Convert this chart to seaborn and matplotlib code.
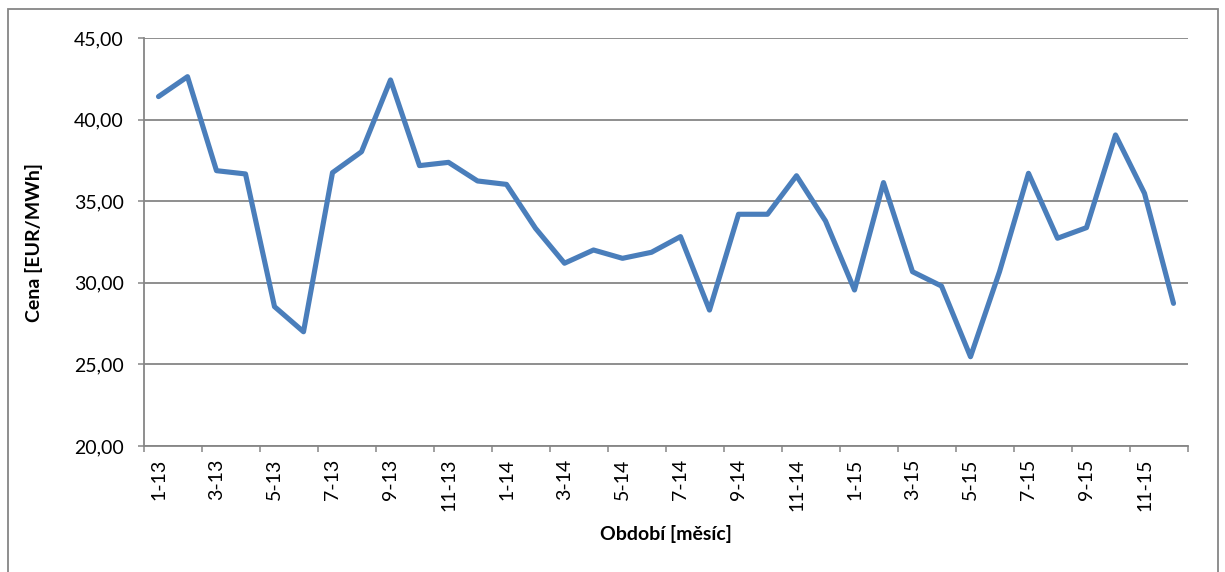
import matplotlib
matplotlib.use("Agg")
import matplotlib.pyplot as plt
import matplotlib.patches as mpatches
from matplotlib.ticker import FixedLocator, FuncFormatter, NullFormatter
import numpy as np
import pandas as pd
import seaborn as sns

# Monthly price series, January 2013 – December 2015
months = [f"{m}-{y}" for y in (13, 14, 15) for m in range(1, 13)]
prices = [
    41.41, 42.63, 36.87, 36.67, 28.54, 27.00, 36.75, 38.03, 42.43, 37.18, 37.38, 36.24,
    36.03, 33.34, 31.20, 32.01, 31.50, 31.87, 32.83, 28.33, 34.20, 34.20, 36.56, 33.79,
    29.56, 36.14, 30.68, 29.80, 25.47, 30.68, 36.71, 32.73, 33.38, 39.06, 35.48, 28.74,
]
y_ticks = [20, 25, 30, 35, 40, 45]
x_title = "Období [měsíc]"
y_title = "Cena [EUR/MWh]"

df = pd.DataFrame({"idx": np.arange(len(months)), "month": months, "price": prices})

sns.set_style("white")
plt.rcParams["font.family"] = ["Lato", "DejaVu Sans"]
plt.rcParams["text.color"] = "black"

grey = "#868686"
blue = "#4A7EBB"
fs = 14

fig = plt.figure(figsize=(12.25, 5.72), dpi=100)
ax = fig.add_axes([144 / 1225, 1 - 446 / 572, (1188 - 144) / 1225, (446 - 38) / 572])

sns.lineplot(data=df, x="idx", y="price", ax=ax, color=blue, linewidth=3.7,
             solid_joinstyle="round", solid_capstyle="round", zorder=3)

n = len(months)
ax.set_xlim(-0.5, n - 0.5)
ax.set_ylim(min(y_ticks), max(y_ticks))

# Category boundaries carry the tick marks; labels sit on every other month
ax.xaxis.set_major_locator(FixedLocator(np.arange(-0.5, n, 2)))
ax.xaxis.set_major_formatter(NullFormatter())
ax.xaxis.set_minor_locator(FixedLocator(df["idx"].values[::2]))
ax.set_xticklabels(df["month"].values[::2], minor=True, rotation=90, fontsize=fs)
ax.tick_params(axis="x", which="major", direction="out", length=4.5, width=1.1,
               color=grey, bottom=True)
ax.tick_params(axis="x", which="minor", length=0, pad=9, labelsize=fs,
               labelcolor="black")

ax.set_yticks(y_ticks)
ax.yaxis.set_major_formatter(FuncFormatter(lambda v, _: f"{v:.2f}".replace(".", ",")))
ax.tick_params(axis="y", direction="out", length=4.5, width=1.1, color=grey,
               left=True, pad=10, labelsize=fs, labelcolor="black")

ax.grid(axis="y", color=grey, linewidth=1.3, zorder=1)
ax.grid(axis="x", visible=False)
ax.set_axisbelow(True)

for side in ("top", "right"):
    ax.spines[side].set_visible(False)
for side in ("left", "bottom"):
    ax.spines[side].set_color(grey)
    ax.spines[side].set_linewidth(1.3)

ax.set_xlabel(x_title, fontsize=fs, fontweight="bold", labelpad=10, color="black")
ax.set_ylabel(y_title, fontsize=fs, fontweight="bold", labelpad=22, color="black")

# Outer chart-area frame
fig.patches.append(mpatches.Rectangle(
    (8 / 1225, -0.02), (1218 - 8) / 1225, 1 - 9 / 572 + 0.02,
    transform=fig.transFigure, fill=False, edgecolor=grey, linewidth=1.3))

fig.savefig("out.png", dpi=100, facecolor="white")
